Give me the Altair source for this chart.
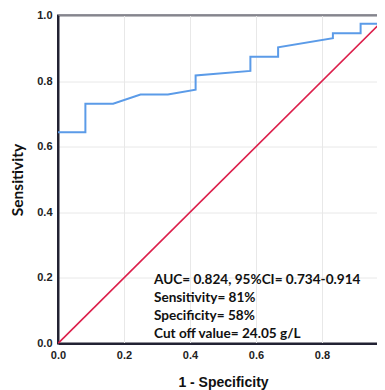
import altair as alt
import pandas as pd

# ROC curve points (1 - specificity, sensitivity)
fpr = [0.0, 0.083, 0.083, 0.167, 0.25, 0.333, 0.417, 0.417, 0.583, 0.583, 0.667, 0.667,
       0.833, 0.833, 0.917, 0.917, 1.0, 1.0]
tpr = [0.644, 0.644, 0.731, 0.731, 0.759, 0.759, 0.774, 0.817, 0.831, 0.874, 0.874, 0.903,
       0.931, 0.946, 0.946, 0.975, 0.975, 1.0]
ref_x = [0.0, 1.0]
ref_y = [0.0, 1.0]
ticks = [0.0, 0.2, 0.4, 0.6, 0.8, 1.0]
notes = ["AUC= 0.824, 95%CI= 0.734-0.914", "Sensitivity= 81%", "Specificity= 58%",
         "Cut off value= 24.05 g/L"]

roc = pd.DataFrame({"x": fpr, "y": tpr, "o": list(range(len(fpr)))})
ref = pd.DataFrame({"x": ref_x, "y": ref_y})

xs = alt.Scale(domain=[0, 1], nice=False)
ys = alt.Scale(domain=[0, 1], nice=False)

xaxis = alt.Axis(values=ticks, format=".1f", title="1 - Specificity", ticks=False,
                 labelPadding=6, labelFont="Liberation Sans", labelFontWeight="bold",
                 labelFontSize=11, labelColor="#222222", titleFont="Liberation Sans",
                 titleFontWeight="bold", titleFontSize=14, titleColor="#111111",
                 titlePadding=15, domainColor="#222233", domainWidth=2,
                 gridColor="#e8e8e8", labelFlush=False)
yaxis = alt.Axis(values=ticks, format=".1f", title="Sensitivity", ticks=False,
                 labelPadding=6, labelFont="Liberation Sans", labelFontWeight="bold",
                 labelFontSize=11, labelColor="#222222", titleFont="Lato",
                 titleFontWeight="bold", titleFontSize=15.5, titleColor="#111111",
                 titlePadding=11, domainColor="#222233", domainWidth=2,
                 gridColor="#e8e8e8", labelFlush=False)

base_ref = alt.Chart(ref).mark_line(color="#dc1f4b", strokeWidth=1.6, clip=True).encode(
    x=alt.X("x:Q", scale=xs, axis=xaxis),
    y=alt.Y("y:Q", scale=ys, axis=yaxis),
)
roc_line = alt.Chart(roc).mark_line(color="#5b9be8", strokeWidth=2, clip=True).encode(
    x=alt.X("x:Q", scale=xs),
    y=alt.Y("y:Q", scale=ys),
    order="o:Q",
)
txt = alt.Chart(pd.DataFrame({"t": [notes]})).mark_text(
    align="left", baseline="middle", font="Lato", fontWeight="bold", fontSize=13.6,
    lineHeight=18.3, color="#111111"
).encode(x=alt.value(96), y=alt.value(264), text="t")

chart = alt.layer(roc_line, base_ref, txt).properties(
    width=330, height=328,
    autosize=alt.AutoSizeParams(type="none"),
    padding={"left": 50, "top": 7.5, "right": -11, "bottom": 46},
).configure_view(stroke="#222233", strokeWidth=2)

chart.save("out.html", embed_options={"renderer": "svg", "actions": False})
